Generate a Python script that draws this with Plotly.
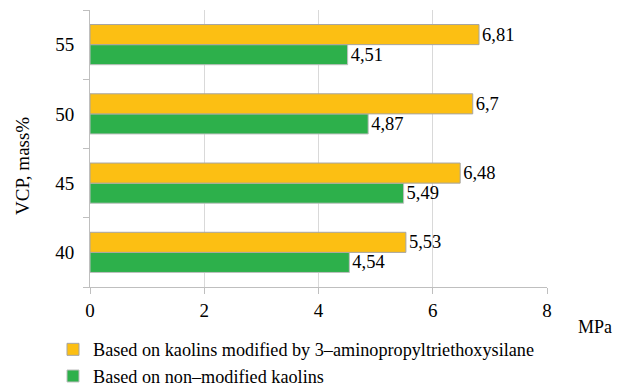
import plotly.graph_objects as go

categories = ["40", "45", "50", "55"]
modified = [5.53, 6.48, 6.70, 6.81]
non_modified = [4.54, 5.49, 4.87, 4.51]
modified_labels = ["5,53", "6,48", "6,7", "6,81"]
non_modified_labels = ["4,54", "5,49", "4,87", "4,51"]
x_ticks = [0, 2, 4, 6, 8]

FONT = "'Liberation Serif', Tinos, 'Times New Roman', serif"

fig = go.Figure()
fig.add_trace(go.Bar(
    y=categories, x=non_modified, orientation="h",
    name="Based on non\u2013modified kaolins",
    marker=dict(color="#2DB04B", line=dict(color="#BFBFBF", width=1)),
    text=non_modified_labels, textposition="outside",
    textfont=dict(family=FONT, size=18.5, color="#000"), cliponaxis=False,
))
fig.add_trace(go.Bar(
    y=categories, x=modified, orientation="h",
    name="Based on kaolins modified by 3\u2013aminopropyltriethoxysilane",
    marker=dict(color="#FCBF13", line=dict(color="#A5A5A5", width=1)),
    text=modified_labels, textposition="outside",
    textfont=dict(family=FONT, size=18.5, color="#000"), cliponaxis=False,
))

fig.update_layout(
    width=616, height=379,
    margin=dict(l=82, r=77, t=2, b=100, autoexpand=False),
    plot_bgcolor="white", paper_bgcolor="white",
    barmode="group", bargap=0.42, bargroupgap=0,
    font=dict(family=FONT, size=18, color="#000"),
    showlegend=True,
    legend=dict(
        traceorder="reversed", orientation="v",
        x=(53 - 90) / 457, y=(287 - 331) / 277, xanchor="left", yanchor="top",
        font=dict(family=FONT, size=18.2, color="#000"),
        itemwidth=30, tracegroupgap=0, bgcolor="rgba(0,0,0,0)",
    ),
    xaxis=dict(
        range=[0, 8], tickvals=x_ticks, ticktext=[str(v) for v in x_ticks],
        showgrid=True, gridcolor="#D9D9D9", gridwidth=1,
        showline=True, linecolor="#BFBFBF", linewidth=1,
        ticks="outside", ticklen=6, tickcolor="#BFBFBF",
        tickfont=dict(family=FONT, size=19), zeroline=False,
    ),
    yaxis=dict(
        type="category", categoryorder="array", categoryarray=categories,
        showline=True, linecolor="#BFBFBF", linewidth=1,
        ticks="outside", ticklen=6, tickcolor="#BFBFBF", tickson="boundaries",
        tickfont=dict(family=FONT, size=19), showgrid=False,
        ticklabelstandoff=11,
    ),
    annotations=[
        dict(text="MPa", xref="paper", yref="paper", x=(595 - 90) / 457,
             y=(287 - 327) / 277, xanchor="center", yanchor="middle",
             showarrow=False, font=dict(family=FONT, size=18)),
        dict(text="VCP, mass%", xref="paper", yref="paper", x=(22 - 90) / 457,
             y=(287 - 166) / 277, xanchor="center", yanchor="middle",
             showarrow=False, textangle=-90, font=dict(family=FONT, size=19)),
    ],
)

fig.write_html("out.html")
